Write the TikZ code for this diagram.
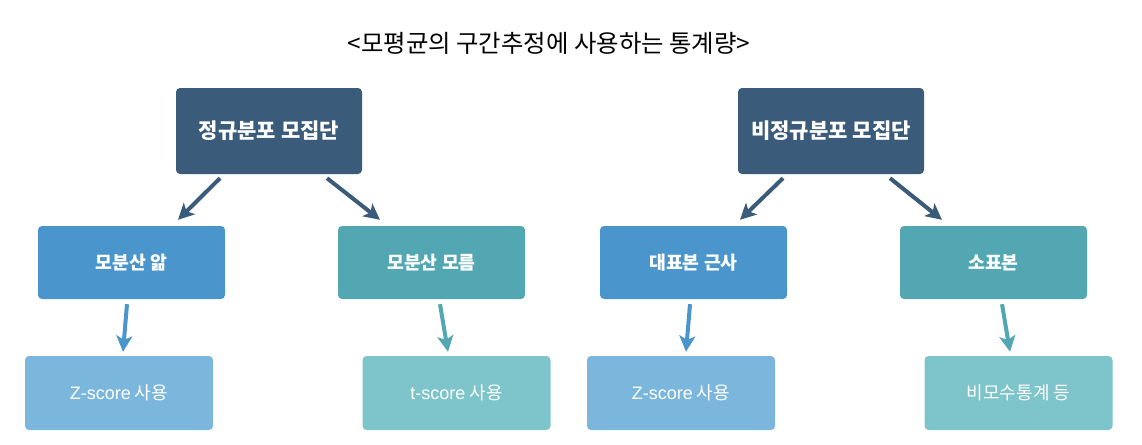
\documentclass[tikz,border=0pt]{standalone}
\usepackage{fontspec}
\setmainfont{Noto Sans CJK KR}
\newfontfamily\latinfont{Liberation Sans}
\usetikzlibrary{arrows.meta}
\usetikzlibrary{positioning}

\definecolor{popcol}{HTML}{3B5B7A}
\definecolor{knowncol}{HTML}{4A95CC}
\definecolor{unknowncol}{HTML}{52A7B3}
\definecolor{zcol}{HTML}{7BB7DD}
\definecolor{tcol}{HTML}{7EC4CB}

\begin{document}
\begin{tikzpicture}[
  x=1pt, y=1pt,
  > = {Stealth[length=16pt,width=16pt,inset=4pt]},
  box/.style = {rounded corners=4pt, inner sep=0pt, text=white},
  popbox/.style = {box, fill=popcol, minimum width=186pt, minimum height=86pt, font=\bfseries\fontsize{21}{24}\selectfont},
  midbox/.style = {box, minimum width=187pt, minimum height=73pt, font=\bfseries\fontsize{18.3}{22}\selectfont},
  lowbox/.style = {box, minimum width=188pt, minimum height=74pt, font=\fontsize{18}{22}\selectfont},
  link/.style = {->, line width=4pt}
  ]
	\useasboundingbox (0,0) rectangle (1142,-444);

	\node (title) at (549,-43) {\fontsize{24.4}{28}\selectfont <모평균의 구간추정에 사용하는 통계량>};

	% populations
	\node[popbox] (normal) at (269,-131) {정규분포 모집단};
	\node[popbox] (nonnormal) at (831,-131) {비정규분포 모집단};

	% second row
	\node[midbox, fill=knowncol] (known) at (131.5,-262.5) {모분산 앎};
	\node[midbox, fill=unknowncol] (unknown) at (431.5,-262.5) {모분산 모름};
	\node[midbox, fill=knowncol] (large) at (693.5,-262.5) {대표본 근사};
	\node[midbox, fill=unknowncol] (small) at (993.5,-262.5) {소표본};

	% statistics
	\node[lowbox, fill=zcol] (zleft) at (119,-393) {{\latinfont Z-score} 사용};
	\node[lowbox, fill=tcol] (tstat) at (456.5,-393) {{\latinfont t-score} 사용};
	\node[lowbox, fill=zcol] (zright) at (681,-393) {{\latinfont Z-score} 사용};
	\node[lowbox, fill=tcol] (nonpar) at (1018.5,-393) {비모수통계 등};

	\draw[link, popcol] ([xshift=-49pt,yshift=-4pt]normal.south) -- ([xshift=46.5pt,yshift=6pt]known.north);
	\draw[link, popcol] ([xshift=58pt,yshift=-4pt]normal.south) -- ([xshift=-51.5pt,yshift=6pt]unknown.north);
	\draw[link, popcol] ([xshift=-48pt,yshift=-4pt]nonnormal.south) -- ([xshift=46.5pt,yshift=6pt]large.north);
	\draw[link, popcol] ([xshift=59pt,yshift=-4pt]nonnormal.south) -- ([xshift=-51.5pt,yshift=6pt]small.north);

	\draw[link, knowncol] ([xshift=-4.5pt,yshift=-5pt]known.south) -- ([xshift=4pt,yshift=4pt]zleft.north);
	\draw[link, unknowncol] ([xshift=8.5pt,yshift=-5pt]unknown.south) -- ([xshift=-8.5pt,yshift=4pt]tstat.north);
	\draw[link, knowncol] ([xshift=-3.5pt,yshift=-5pt]large.south) -- ([xshift=5pt,yshift=4pt]zright.north);
	\draw[link, unknowncol] ([xshift=8.5pt,yshift=-5pt]small.south) -- ([xshift=-8.5pt,yshift=4pt]nonpar.north);

\end{tikzpicture}
\end{document}
